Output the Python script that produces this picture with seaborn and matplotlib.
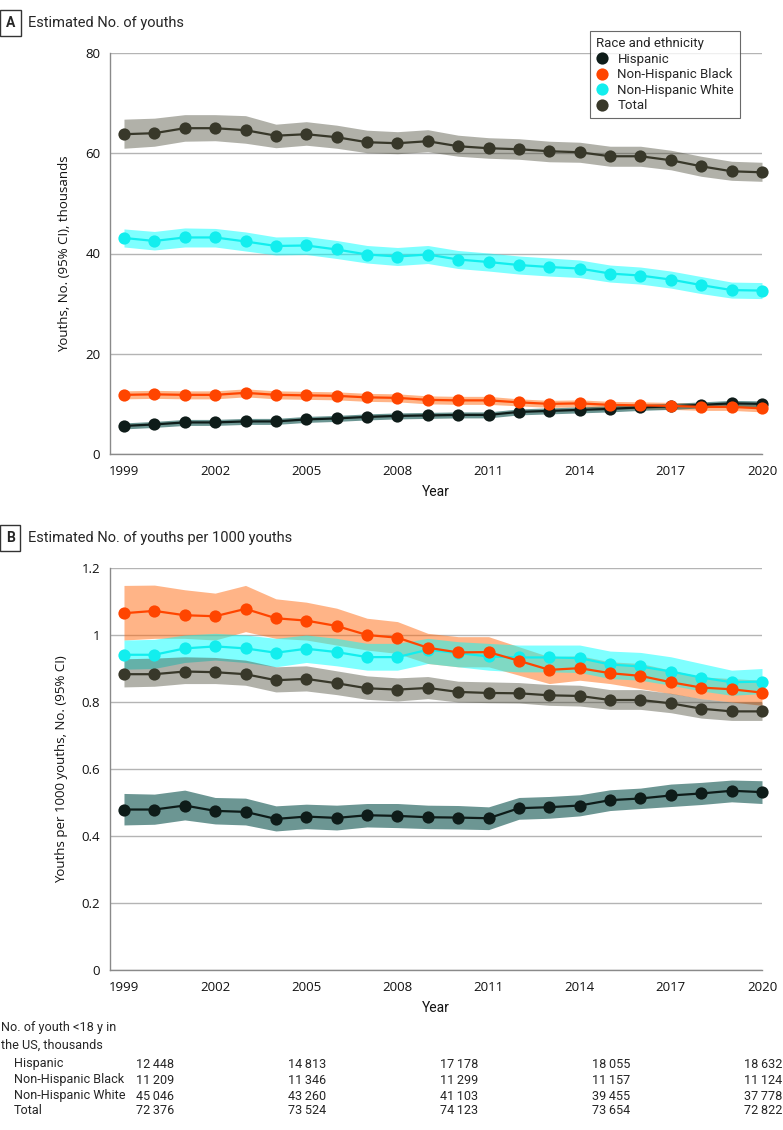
import matplotlib
matplotlib.use("Agg")
import matplotlib.pyplot as plt
from matplotlib.lines import Line2D
import seaborn as sns
import pandas as pd

years = list(range(1999, 2021))
groups = ["Hispanic", "Non-Hispanic Black", "Non-Hispanic White", "Total"]

# Panel A - estimated No. of youths, thousands
a_hisp = [5.6, 5.9, 6.3, 6.3, 6.5, 6.5, 6.9, 7.1, 7.4, 7.6, 7.7, 7.8, 7.8, 8.4, 8.6, 8.8, 9.0, 9.3, 9.5, 9.8, 10.1, 10.0]
a_hisp_lo = [5.0, 5.3, 5.7, 5.7, 5.9, 5.9, 6.3, 6.5, 6.8, 7.0, 7.1, 7.2, 7.2, 7.8, 8.0, 8.2, 8.4, 8.7, 8.9, 9.2, 9.5, 9.4]
a_hisp_hi = [6.2, 6.5, 6.9, 6.9, 7.1, 7.1, 7.5, 7.7, 8.0, 8.2, 8.3, 8.4, 8.4, 9.0, 9.2, 9.4, 9.6, 9.9, 10.1, 10.4, 10.7, 10.6]
a_black = [11.8, 11.9, 11.8, 11.8, 12.2, 11.8, 11.7, 11.6, 11.3, 11.2, 10.8, 10.7, 10.7, 10.3, 10.0, 10.1, 9.8, 9.7, 9.6, 9.4, 9.4, 9.1]
a_black_lo = [11.0, 11.1, 11.0, 11.0, 11.4, 11.0, 10.9, 10.8, 10.5, 10.4, 10.0, 9.9, 9.9, 9.6, 9.3, 9.4, 9.1, 9.0, 8.9, 8.7, 8.7, 8.4]
a_black_hi = [12.6, 12.7, 12.6, 12.6, 13.0, 12.6, 12.5, 12.4, 12.1, 12.0, 11.6, 11.5, 11.5, 11.0, 10.7, 10.8, 10.5, 10.4, 10.3, 10.1, 10.1, 9.8]
a_white = [43.1, 42.5, 43.2, 43.2, 42.4, 41.5, 41.6, 40.8, 39.8, 39.4, 39.8, 38.8, 38.3, 37.7, 37.3, 37.0, 36.0, 35.6, 34.8, 33.7, 32.7, 32.6]
a_white_lo = [41.3, 40.7, 41.3, 41.3, 40.5, 39.7, 39.8, 39.0, 38.1, 37.6, 38.0, 37.0, 36.5, 35.9, 35.5, 35.2, 34.3, 33.9, 33.1, 32.0, 31.1, 31.0]
a_white_hi = [44.9, 44.4, 45.1, 45.0, 44.3, 43.3, 43.4, 42.6, 41.6, 41.2, 41.6, 40.6, 40.1, 39.5, 39.1, 38.7, 37.7, 37.3, 36.5, 35.4, 34.3, 34.2]
a_total = [63.8, 64.0, 65.0, 65.0, 64.6, 63.5, 63.8, 63.2, 62.2, 62.0, 62.4, 61.4, 61.0, 60.8, 60.4, 60.2, 59.4, 59.4, 58.6, 57.4, 56.4, 56.2]
a_total_lo = [61.0, 61.4, 62.4, 62.5, 62.0, 61.1, 61.6, 61.0, 60.1, 59.9, 60.3, 59.4, 59.0, 58.8, 58.3, 58.2, 57.4, 57.4, 56.7, 55.4, 54.6, 54.4]
a_total_hi = [66.8, 67.0, 67.7, 67.7, 67.5, 65.8, 66.3, 65.6, 64.6, 64.3, 64.7, 63.6, 63.1, 62.9, 62.4, 62.2, 61.4, 61.4, 60.6, 59.4, 58.4, 58.2]

# Panel B - estimated No. of youths per 1000 youths
b_hisp = [0.479, 0.479, 0.491, 0.475, 0.472, 0.451, 0.458, 0.454, 0.462, 0.460, 0.456, 0.455, 0.453, 0.483, 0.486, 0.491, 0.507, 0.512, 0.521, 0.527, 0.535, 0.531]
b_hisp_lo = [0.433, 0.435, 0.448, 0.436, 0.433, 0.415, 0.422, 0.418, 0.427, 0.425, 0.422, 0.421, 0.419, 0.450, 0.453, 0.460, 0.476, 0.482, 0.488, 0.494, 0.502, 0.497]
b_hisp_hi = [0.527, 0.525, 0.537, 0.515, 0.513, 0.490, 0.495, 0.492, 0.497, 0.497, 0.492, 0.491, 0.487, 0.515, 0.518, 0.523, 0.538, 0.543, 0.555, 0.560, 0.567, 0.565]
b_black = [1.065, 1.072, 1.059, 1.056, 1.078, 1.050, 1.043, 1.027, 1.000, 0.992, 0.962, 0.948, 0.949, 0.923, 0.896, 0.901, 0.886, 0.878, 0.859, 0.843, 0.838, 0.828]
b_black_lo = [0.985, 0.990, 0.990, 0.985, 1.010, 0.990, 0.985, 0.970, 0.955, 0.945, 0.915, 0.905, 0.905, 0.880, 0.855, 0.865, 0.855, 0.840, 0.825, 0.810, 0.800, 0.790]
b_black_hi = [1.148, 1.149, 1.135, 1.125, 1.148, 1.108, 1.098, 1.080, 1.050, 1.040, 1.005, 0.995, 0.995, 0.965, 0.935, 0.938, 0.920, 0.915, 0.895, 0.875, 0.870, 0.865]
b_white = [0.941, 0.941, 0.960, 0.966, 0.960, 0.947, 0.959, 0.949, 0.934, 0.934, 0.956, 0.946, 0.936, 0.933, 0.933, 0.931, 0.912, 0.906, 0.891, 0.873, 0.859, 0.861]
b_white_lo = [0.898, 0.900, 0.918, 0.925, 0.918, 0.905, 0.918, 0.908, 0.895, 0.895, 0.915, 0.905, 0.895, 0.890, 0.890, 0.888, 0.870, 0.865, 0.850, 0.833, 0.820, 0.825]
b_white_hi = [0.985, 0.987, 1.000, 1.005, 1.000, 0.990, 1.000, 0.990, 0.975, 0.975, 0.990, 0.980, 0.975, 0.970, 0.970, 0.970, 0.952, 0.948, 0.935, 0.915, 0.895, 0.900]
b_total = [0.883, 0.883, 0.891, 0.889, 0.883, 0.865, 0.869, 0.856, 0.841, 0.837, 0.842, 0.830, 0.827, 0.826, 0.820, 0.818, 0.806, 0.806, 0.796, 0.780, 0.772, 0.772]
b_total_lo = [0.845, 0.847, 0.855, 0.855, 0.850, 0.830, 0.833, 0.822, 0.808, 0.803, 0.810, 0.800, 0.798, 0.797, 0.790, 0.788, 0.778, 0.778, 0.768, 0.752, 0.745, 0.745]
b_total_hi = [0.929, 0.931, 0.935, 0.933, 0.925, 0.905, 0.908, 0.893, 0.878, 0.872, 0.876, 0.862, 0.860, 0.858, 0.852, 0.850, 0.837, 0.837, 0.826, 0.810, 0.800, 0.800]

# table under panel B: No. of youth <18 y in the US, thousands
us_hisp = [12448, 14813, 17178, 18055, 18632]
us_black = [11209, 11346, 11299, 11157, 11124]
us_white = [45046, 43260, 41103, 39455, 37778]
us_total = [72376, 73524, 74123, 73654, 72822]

line_colors = {"Hispanic": "#0e1c19", "Non-Hispanic Black": "#ff4500",
               "Non-Hispanic White": "#12eeee", "Total": "#38382a"}
band_colors = {"Hispanic": ("#1d5e5a", 0.65), "Non-Hispanic Black": ("#ff6a10", 0.5),
               "Non-Hispanic White": ("#00ffff", 0.5), "Total": ("#3d3d2a", 0.4)}

sns.set_theme(style="white")
plt.rcParams["font.family"] = ["Open Sans", "DejaVu Sans"]
narrow = ["Roboto", "DejaVu Sans"]


def make_frame(est, lo, hi):
    rows = []
    for g, e, l, h in zip(groups, est, lo, hi):
        for y, ev, lv, hv in zip(years, e, l, h):
            rows.append({"Year": y, "Group": g, "Est": ev, "Lo": lv, "Hi": hv})
    return pd.DataFrame(rows)


df_a = make_frame([a_hisp, a_black, a_white, a_total],
                  [a_hisp_lo, a_black_lo, a_white_lo, a_total_lo],
                  [a_hisp_hi, a_black_hi, a_white_hi, a_total_hi])
df_b = make_frame([b_hisp, b_black, b_white, b_total],
                  [b_hisp_lo, b_black_lo, b_white_lo, b_total_lo],
                  [b_hisp_hi, b_black_hi, b_white_hi, b_total_hi])

W, H = 783, 1130
fig = plt.figure(figsize=(W / 100, H / 100), dpi=100)
ax_a = fig.add_axes([110 / W, 1 - 454 / H, 652 / W, 401 / H])
ax_b = fig.add_axes([110 / W, 1 - 970 / H, 652 / W, 402 / H])


def draw_panel(ax, df, ymax, ystep, ylabel, fmt):
    # bands first, then lines on top
    for g in ["Non-Hispanic Black", "Non-Hispanic White", "Total", "Hispanic"]:
        sub = df[df["Group"] == g]
        c, a = band_colors[g]
        ax.fill_between(sub["Year"], sub["Lo"], sub["Hi"], color=c, alpha=a, lw=0, zorder=2)
    for g in ["Hispanic", "Non-Hispanic White", "Non-Hispanic Black", "Total"]:
        sub = df[df["Group"] == g]
        sns.lineplot(data=sub, x="Year", y="Est", ax=ax, color=line_colors[g],
                     marker="o", markersize=8.8, markeredgewidth=0, linewidth=1.6,
                     zorder=3, legend=False)
    for ln in ax.lines:
        ln.set_clip_on(False)

    ax.set_xlim(1998.54, 2020)
    ax.set_ylim(0, ymax)
    ticks = [i * ystep for i in range(int(round(ymax / ystep)) + 1)]
    ax.set_yticks(ticks)
    ax.set_yticklabels([fmt(t) for t in ticks], fontsize=9.5)
    ax.set_xticks(years)
    ax.set_xticklabels([str(y) if (y - 1999) % 3 == 0 else "" for y in years], fontsize=9.5)
    ax.grid(axis="y", color="#b4b4b4", lw=1)
    ax.grid(axis="x", visible=False)
    ax.set_axisbelow(True)
    for s in ["top", "right"]:
        ax.spines[s].set_visible(False)
    for s in ["left", "bottom"]:
        ax.spines[s].set_color("#8a8a8a")
        ax.spines[s].set_linewidth(1)
    ax.tick_params(axis="both", direction="out", length=5, width=1, color="#8a8a8a",
                   pad=2, labelcolor="#111111")
    ax.tick_params(axis="x", pad=3)
    ax.set_xlabel("Year", fontsize=10, family=narrow, labelpad=5, color="#111111")
    ax.set_ylabel(ylabel, fontsize=9.5, labelpad=10, color="#111111")


draw_panel(ax_a, df_a, 80, 20, "Youths, No. (95% CI), thousands", lambda t: f"{t:g}")
draw_panel(ax_b, df_b, 1.2, 0.2, "Youths per 1000 youths, No. (95% CI)",
           lambda t: f"{t:.1f}".rstrip("0").rstrip(".") if t != 0 else "0")

box = dict(boxstyle="square,pad=0.4", fc="white", ec="#333333", lw=1)
fig.text(6 / W, 1 - 23 / H, "A", fontsize=10, fontweight="bold", va="center",
         family=narrow, bbox=box)
fig.text(28 / W, 1 - 23 / H, "Estimated No. of youths", fontsize=10.5, va="center",
         family=narrow)
fig.text(6 / W, 1 - 538 / H, "B", fontsize=10, fontweight="bold", va="center",
         family=narrow, bbox=box)
fig.text(28 / W, 1 - 538 / H, "Estimated No. of youths per 1000 youths", fontsize=10.5,
         va="center", family=narrow)

handles = [Line2D([], [], ls="none", marker="o", markersize=8.8, markeredgewidth=0,
                  color=line_colors[g]) for g in groups]
leg = fig.legend(handles, groups, title="Race and ethnicity", loc="upper right",
                 bbox_to_anchor=(740 / W, 1 - 31 / H), frameon=True, fancybox=False,
                 alignment="left", handlelength=0.8, handletextpad=0.8,
                 labelspacing=0.2, borderpad=0.45, borderaxespad=0,
                 prop={"family": narrow, "size": 9.5},
                 title_fontproperties={"family": narrow, "size": 9.5})
leg.get_frame().set_edgecolor("#444444")
leg.get_frame().set_linewidth(0.8)

# table of population counts
fs = 9.1
fig.text(1 / W, 1 - 1027 / H, "No. of youth <18 y in", fontsize=fs, family=narrow, va="center")
fig.text(1 / W, 1 - 1045 / H, "the US, thousands", fontsize=fs, family=narrow, va="center")
col_right = [174, 326, 478, 630, 782]
for row_y, name, vals in zip([1064, 1080, 1096, 1111], groups,
                             [us_hisp, us_black, us_white, us_total]):
    fig.text(14 / W, 1 - row_y / H, name, fontsize=fs, family=narrow, va="center")
    for xr, v in zip(col_right, vals):
        txt = f"{v:,}".replace(",", "\u2009")
        fig.text(xr / W, 1 - row_y / H, txt, fontsize=fs, family=narrow, va="center", ha="right")

fig.savefig("out.png", dpi=100)
